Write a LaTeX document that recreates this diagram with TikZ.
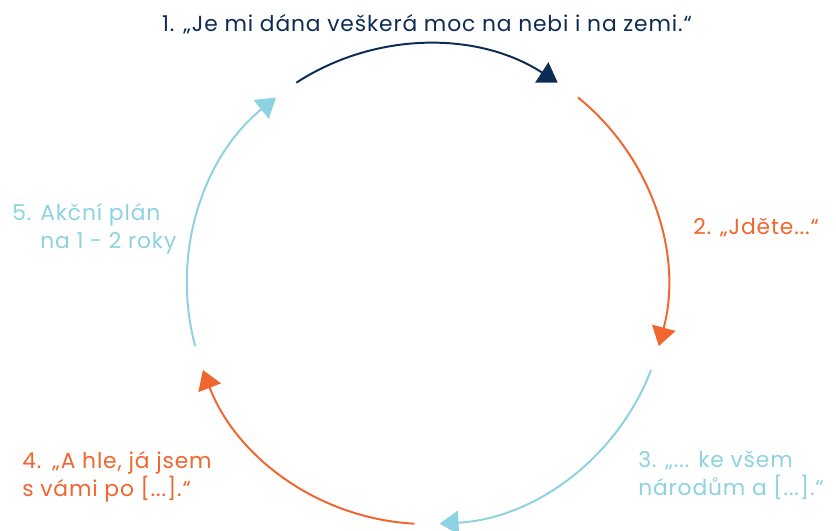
\documentclass[tikz,border=0pt]{standalone}
\usepackage{fontspec}
\setmainfont{Poppins}[LetterSpace=4]
\usetikzlibrary{arrows.meta}
\definecolor{navy}{HTML}{0D2C54}
\definecolor{tangerine}{HTML}{F1652F}
\definecolor{skyblue}{HTML}{8DD2E1}

\begin{document}
\begin{tikzpicture}[
    cyclearrow/.style={line width=1.4pt, -{Triangle[length=13.5pt,width=17pt]}},
    steplabel/.style={font=\fontsize{15.5}{20}\selectfont, inner sep=0pt, align=left}
  ]
  \useasboundingbox (-10.675,-6.15) rectangle (10.225,7.1);
  % circle of five steps, radius 6
  \coordinate (a1) at (123:6);
  \coordinate (a2) at (51:6);
  \coordinate (a3) at (-21:6);
  \coordinate (a4) at (-93:6);
  \coordinate (a5) at (-165:6);
  \draw[cyclearrow, navy]      (a1) arc[start angle=123,  end angle=57,   radius=6];
  \draw[cyclearrow, tangerine] (a2) arc[start angle=51,   end angle=-15,  radius=6];
  \draw[cyclearrow, skyblue]   (a3) arc[start angle=-21,  end angle=-87,  radius=6];
  \draw[cyclearrow, tangerine] (a4) arc[start angle=-93,  end angle=-159, radius=6];
  \draw[cyclearrow, skyblue]   (a5) arc[start angle=-165, end angle=-231, radius=6];
  % labels
  \node[steplabel, navy] (moc) at (0,6.5) {1. „Je mi dána veškerá moc na nebi i na zemi.“};
  \node[steplabel, tangerine, anchor=west] (jdete) at (6.65,1.4) {2. „Jděte...“};
  \node[steplabel, skyblue, anchor=west] (narody) at (5.275,-4.775) {3. „... ke všem\\národům a [...].“};
  \node[steplabel, tangerine, anchor=west] (shle) at (-10.125,-4.825) {4.\enspace„A hle, já jsem\\s vámi po [...].“};
  \node[steplabel, skyblue, anchor=west] (plan) at (-10.375,1.375) {5. Akční plán\\\phantom{5. }na 1 - 2 roky};
\end{tikzpicture}
\end{document}
